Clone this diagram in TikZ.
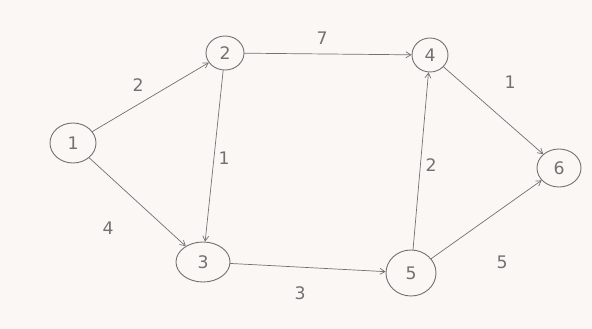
\documentclass[tikz,border=0pt]{standalone}
\usepackage{fontspec}
\setmainfont{DejaVu Sans}
\usetikzlibrary{arrows.meta,shapes.geometric}
\definecolor{paper}{RGB}{251,247,245}
\definecolor{pencil}{RGB}{115,112,112}
\begin{document}
\begin{tikzpicture}[x=1pt, y=-1pt, font=\LARGE, line join=round, line cap=round, >={Straight Barb[length=5pt,width=6pt]}]
    \tikzset{vertex/.style={draw=pencil, ellipse, inner sep=0pt, text=pencil, line width=0.9pt},
             edge/.style={draw=pencil, ->, line width=0.7pt},
             weight/.style={text=pencil}}
    \fill[paper] (0,0) rectangle (592,329);
    \useasboundingbox (0,0) rectangle (592,329);
    \foreach \name/\diem/\w/\h in {1/{(73,143)}/46/40, 2/{(225,53)}/38/34, 3/{(203,262)}/54/40,
                                    4/{(430,55)}/36/34, 5/{(411,273)}/50/46, 6/{(559,168)}/44/38}
        \node[vertex, minimum width=\w pt, minimum height=\h pt] (v\name) at \diem {\name};
    \draw[edge] (v1) -- (v2);
    \draw[edge] (v1) -- (v3);
    \draw[edge] (v2) -- (v4);
    \draw[edge] (v2) -- (v3);
    \draw[edge] (v3) -- (v5);
    \draw[edge] (v5) -- (v4);
    \draw[edge] (v4) -- (v6);
    \draw[edge] (v5) -- (v6);
    % trong so cac canh
    \node[weight] (w12) at (138,85) {2};
    \node[weight] (w13) at (108,228) {4};
    \node[weight] (w23) at (224,158) {1};
    \node[weight] (w24) at (322,38) {7};
    \node[weight] (w35) at (300,293) {3};
    \node[weight] (w54) at (431,165) {2};
    \node[weight] (w46) at (510,82) {1};
    \node[weight] (w56) at (502,262) {5};
\end{tikzpicture}
\end{document}
